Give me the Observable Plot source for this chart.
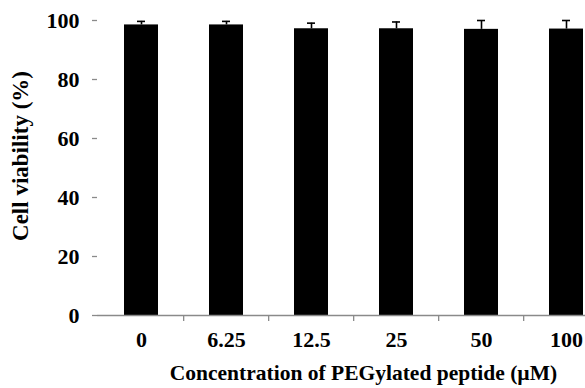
<!DOCTYPE html>
<html>
<head>
<meta charset="utf-8">
<script src="https://cdn.jsdelivr.net/npm/d3@7"></script>
<script src="https://cdn.jsdelivr.net/npm/@observablehq/plot@0.6"></script>
<style>
  html, body { margin: 0; padding: 0; background: #fff; }
  #chart svg { overflow: hidden; display: block; }
</style>
</head>
<body>
<div id="chart"></div>
<script>
const concentrations = ["0", "6.25", "12.5", "25", "50", "100"];
const viability = [98.5, 98.5, 97.2, 97.2, 97.0, 97.1];
const errors = [1.2, 1.2, 1.9, 2.3, 3.0, 2.9];
const yTicks = [0, 20, 40, 60, 80, 100];
const xTitle = "Concentration of PEGylated peptide (\u00b5M)";
const yTitle = "Cell viability (%)";

const data = concentrations.map((c, i) => ({c, v: viability[i], e: errors[i]}));

const font = "'Liberation Serif', 'Times New Roman', serif";
const axisColor = "#8a8a8a";
const fs = 22;
const titleFs = 21.5;

const chart = Plot.plot({
  width: 585,
  height: 388,
  marginTop: 20,
  marginBottom: 73,
  marginLeft: 97,
  marginRight: 0,
  style: {fontFamily: font, fontWeight: "bold", fontSize: fs + "px", color: "#000", background: "#fff", overflow: "hidden"},
  x: {domain: concentrations, range: [97, 611], paddingInner: 0.6, paddingOuter: 0.3, axis: null},
  y: {domain: [0, 100], range: [315, 20], axis: null},
  marks: [
    Plot.barY(data, {x: "c", y: "v", fill: "#000"}),
    Plot.ruleX(data, {x: "c", y1: "v", y2: d => d.v + d.e, stroke: "#000", strokeWidth: 1.6}),
    Plot.tickY(data, {x: "c", y: d => d.v + d.e, stroke: "#000", strokeWidth: 1.6, insetLeft: 13, insetRight: 13}),
    // axis lines
    Plot.ruleX([0], {x: () => null, frameAnchor: "left", y1: 0, y2: 100, stroke: axisColor, strokeWidth: 1.3}),
    Plot.ruleY([0], {stroke: axisColor, strokeWidth: 1.3}),
    // y axis ticks + labels
    Plot.axisY({ticks: yTicks, tickSize: 5, tickPadding: 13, stroke: axisColor, strokeWidth: 1.3, label: null, fill: "#000", fontSize: fs, fontFamily: font, fontWeight: "bold"}),
    // x boundary ticks
    Plot.axisX({ticks: concentrations.slice(1), tickSize: 6, text: null, dx: -514 / 12, stroke: axisColor, strokeWidth: 1.3, label: null}),
    // x labels
    Plot.axisX({tickSize: 0, tickPadding: 16, label: null, fill: "#000", fontSize: fs, fontFamily: font, fontWeight: "bold"}),
    // titles
    Plot.text([xTitle], {frameAnchor: "bottom", textAnchor: "middle", dx: 22, dy: 64, text: d => d, fontSize: titleFs, fontFamily: font, fontWeight: "bold", fill: "#000"}),
    Plot.text([yTitle], {frameAnchor: "left", textAnchor: "middle", dx: -77, dy: -12, rotate: -90, text: d => d, fontSize: 23, fontFamily: font, fontWeight: "bold", fill: "#000"})
  ]
});
document.getElementById("chart").appendChild(chart);
</script>
</body>
</html>
